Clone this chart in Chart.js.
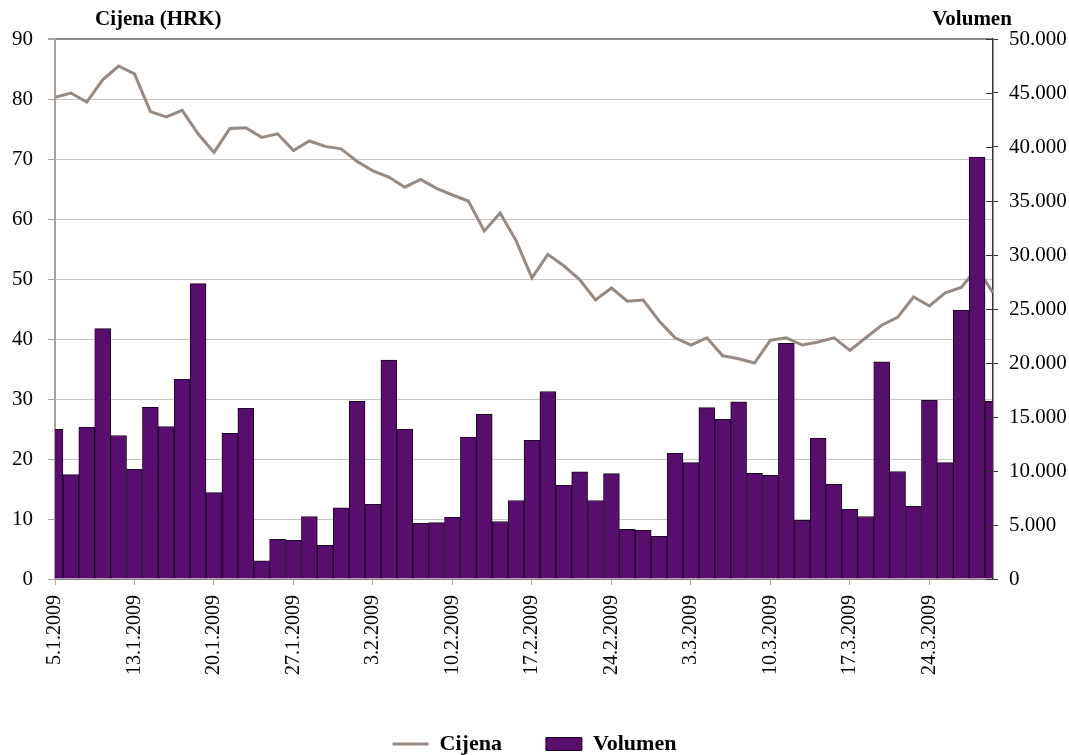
<!DOCTYPE html>
<html lang="hr">
<head>
<meta charset="utf-8">
<title>Cijena i volumen</title>
<script src="https://cdn.jsdelivr.net/npm/chart.js@4/dist/chart.umd.min.js"></script>
<style>
    html, body { margin: 0; background: #fff; overflow: hidden; }
    /* malo visi od prozora da legenda sjedne nize, kao u originalu */
    .container { position: relative; width: 1069px; height: 767px; }
</style>
</head>
<body>
<div class="container">
    <canvas id="grafikon"></canvas>
</div>
<script>
const datumi = [
    '5.1.2009', '7.1.2009', '8.1.2009', '9.1.2009', '12.1.2009',
    '13.1.2009', '14.1.2009', '15.1.2009', '16.1.2009', '19.1.2009',
    '20.1.2009', '21.1.2009', '22.1.2009', '23.1.2009', '26.1.2009',
    '27.1.2009', '28.1.2009', '29.1.2009', '30.1.2009', '2.2.2009',
    '3.2.2009', '4.2.2009', '5.2.2009', '6.2.2009', '9.2.2009',
    '10.2.2009', '11.2.2009', '12.2.2009', '13.2.2009', '16.2.2009',
    '17.2.2009', '18.2.2009', '19.2.2009', '20.2.2009', '23.2.2009',
    '24.2.2009', '25.2.2009', '26.2.2009', '27.2.2009', '2.3.2009',
    '3.3.2009', '4.3.2009', '5.3.2009', '6.3.2009', '9.3.2009',
    '10.3.2009', '11.3.2009', '12.3.2009', '13.3.2009', '16.3.2009',
    '17.3.2009', '18.3.2009', '19.3.2009', '20.3.2009', '23.3.2009',
    '24.3.2009', '25.3.2009', '26.3.2009', '27.3.2009', '30.3.2009'
];

// cijena dionice (HRK), lijeva os
const cijena = [
    80.3, 81.0, 79.5, 83.2, 85.5, 84.2, 77.9, 77.0, 78.1, 74.2,
    71.1, 75.1, 75.2, 73.6, 74.2, 71.4, 73.0, 72.1, 71.7, 69.6,
    68.0, 67.0, 65.3, 66.6, 65.1, 64.0, 63.0, 58.0, 61.0, 56.4,
    50.2, 54.1, 52.2, 49.9, 46.5, 48.5, 46.3, 46.5, 43.0, 40.2,
    39.0, 40.2, 37.2, 36.7, 36.0, 39.8, 40.2, 39.0, 39.5, 40.2,
    38.1, 40.2, 42.3, 43.6, 47.0, 45.5, 47.7, 48.6, 51.8, 47.7
];

// volumen trgovanja, desna os
const volumen = [
    13860, 9660, 14060, 23180, 13290, 10150, 15900, 14120, 18490, 27350,
    8000, 13490, 15810, 1690, 3670, 3610, 5790, 3110, 6580, 16440,
    6910, 20270, 13860, 5160, 5220, 5720, 13130, 15240, 5320, 7270,
    12830, 17360, 8670, 9920, 7270, 9760, 4600, 4500, 3940, 11640,
    10780, 15870, 14780, 16400, 9790, 9590, 21830, 5430, 13030, 8770,
    6450, 5790, 20100, 9950, 6720, 16540, 10780, 24870, 39060, 16440
];

const korakDatuma = 5;
const cijenaMax = 90;
const volumenMax = 50000;

const FONT = "'Liberation Serif', 'Times New Roman', serif";
const DNO = 579; // donji rub podrucja grafa

function formatTisuce(v) {
    return String(v).replace(/\B(?=(\d{3})+(?!\d))/g, '.');
}

// naslovi osi iznad grafa + unutarnje crtice desne osi
const nasloviOsi = {
    id: 'nasloviOsi',
    afterDraw(chart) {
        const { ctx, chartArea } = chart;
        ctx.save();
        ctx.fillStyle = '#000';
        ctx.font = 'bold 21px ' + FONT;
        ctx.textBaseline = 'middle';
        ctx.textAlign = 'left';
        ctx.fillText('Cijena (HRK)', chartArea.left + 40, chartArea.top - 19);
        ctx.textAlign = 'center';
        ctx.fillText('Volumen', chartArea.right - 21, chartArea.top - 19);

        const y1 = chart.scales.y1;
        ctx.strokeStyle = '#333';
        ctx.lineWidth = 1;
        y1.ticks.forEach(t => {
            const y = Math.round(y1.getPixelForValue(t.value)) + 0.5;
            ctx.beginPath();
            ctx.moveTo(chartArea.right - 7, y);
            ctx.lineTo(chartArea.right, y);
            ctx.stroke();
        });
        ctx.restore();
    }
};

document.addEventListener('DOMContentLoaded', () => {
    const canvas = document.getElementById('grafikon');

    new Chart(canvas.getContext('2d'), {
        data: {
            labels: datumi,
            datasets: [{
                type: 'line',
                label: 'Cijena',
                data: cijena,
                yAxisID: 'y',
                borderColor: '#968a82',
                backgroundColor: '#968a82',
                borderWidth: 3,
                pointRadius: 0,
                pointStyle: 'line',
                tension: 0,
                order: 2
            }, {
                type: 'bar',
                label: 'Volumen',
                data: volumen,
                yAxisID: 'y1',
                backgroundColor: '#570e6d',
                borderColor: '#1c0524',
                borderWidth: 1,
                pointStyle: 'rect',
                barPercentage: 1,
                categoryPercentage: 1,
                order: 1
            }]
        },
        options: {
            responsive: true,
            maintainAspectRatio: false,
            animation: false,
            layout: { padding: { top: 39, bottom: 2, left: 0, right: 0 } },
            plugins: {
                tooltip: { enabled: false },
                legend: {
                    position: 'bottom',
                    labels: {
                        color: '#000',
                        font: { family: FONT, size: 22, weight: 'bold' },
                        usePointStyle: true,
                        pointStyleWidth: 36,
                        boxHeight: 13,
                        padding: 44,
                        sort: (a, b) => a.datasetIndex - b.datasetIndex
                    }
                }
            },
            scales: {
                x: {
                    offset: false,
                    border: { color: '#808080', width: 1 },
                    grid: {
                        offset: false,
                        drawOnChartArea: false,
                        tickLength: 6,
                        tickColor: (c) => c.index % korakDatuma === 0 ? '#b0aaa4' : 'rgba(0,0,0,0)'
                    },
                    ticks: {
                        autoSkip: false,
                        minRotation: 90,
                        maxRotation: 90,
                        padding: 10,
                        color: '#000',
                        font: { family: FONT, size: 20 },
                        callback: function (value, index) {
                            return index % korakDatuma === 0 ? this.getLabelForValue(value) : '';
                        }
                    },
                    afterFit: (scale) => {
                        const chart = scale.chart;
                        const leg = chart.legend ? chart.legend.height : 0;
                        scale.height = chart.height - 2 - leg - DNO;
                    }
                },
                y: {
                    position: 'left',
                    min: 0,
                    max: cijenaMax,
                    border: { color: '#a8a19a', width: 2 },
                    grid: {
                        color: (c) => c.tick && c.tick.value === cijenaMax ? '#8c8c8c' : '#c8c6c4',
                        lineWidth: (c) => c.tick && c.tick.value === cijenaMax ? 2 : 1,
                        tickColor: '#a8a19a',
                        tickLength: 7
                    },
                    ticks: {
                        stepSize: 10,
                        padding: 15,
                        color: '#000',
                        font: { family: FONT, size: 21 }
                    },
                    afterFit: (scale) => { scale.width = 55; }
                },
                y1: {
                    position: 'right',
                    min: 0,
                    max: volumenMax,
                    border: { color: '#333', width: 1.5 },
                    grid: {
                        drawOnChartArea: false,
                        tickColor: '#333',
                        tickLength: 5
                    },
                    ticks: {
                        stepSize: 5000,
                        padding: 11,
                        color: '#000',
                        font: { family: FONT, size: 21 },
                        callback: (v) => formatTisuce(v)
                    },
                    afterFit: (scale) => { scale.width = 76; }
                }
            }
        },
        plugins: [nasloviOsi]
    });
});
</script>
</body>
</html>
